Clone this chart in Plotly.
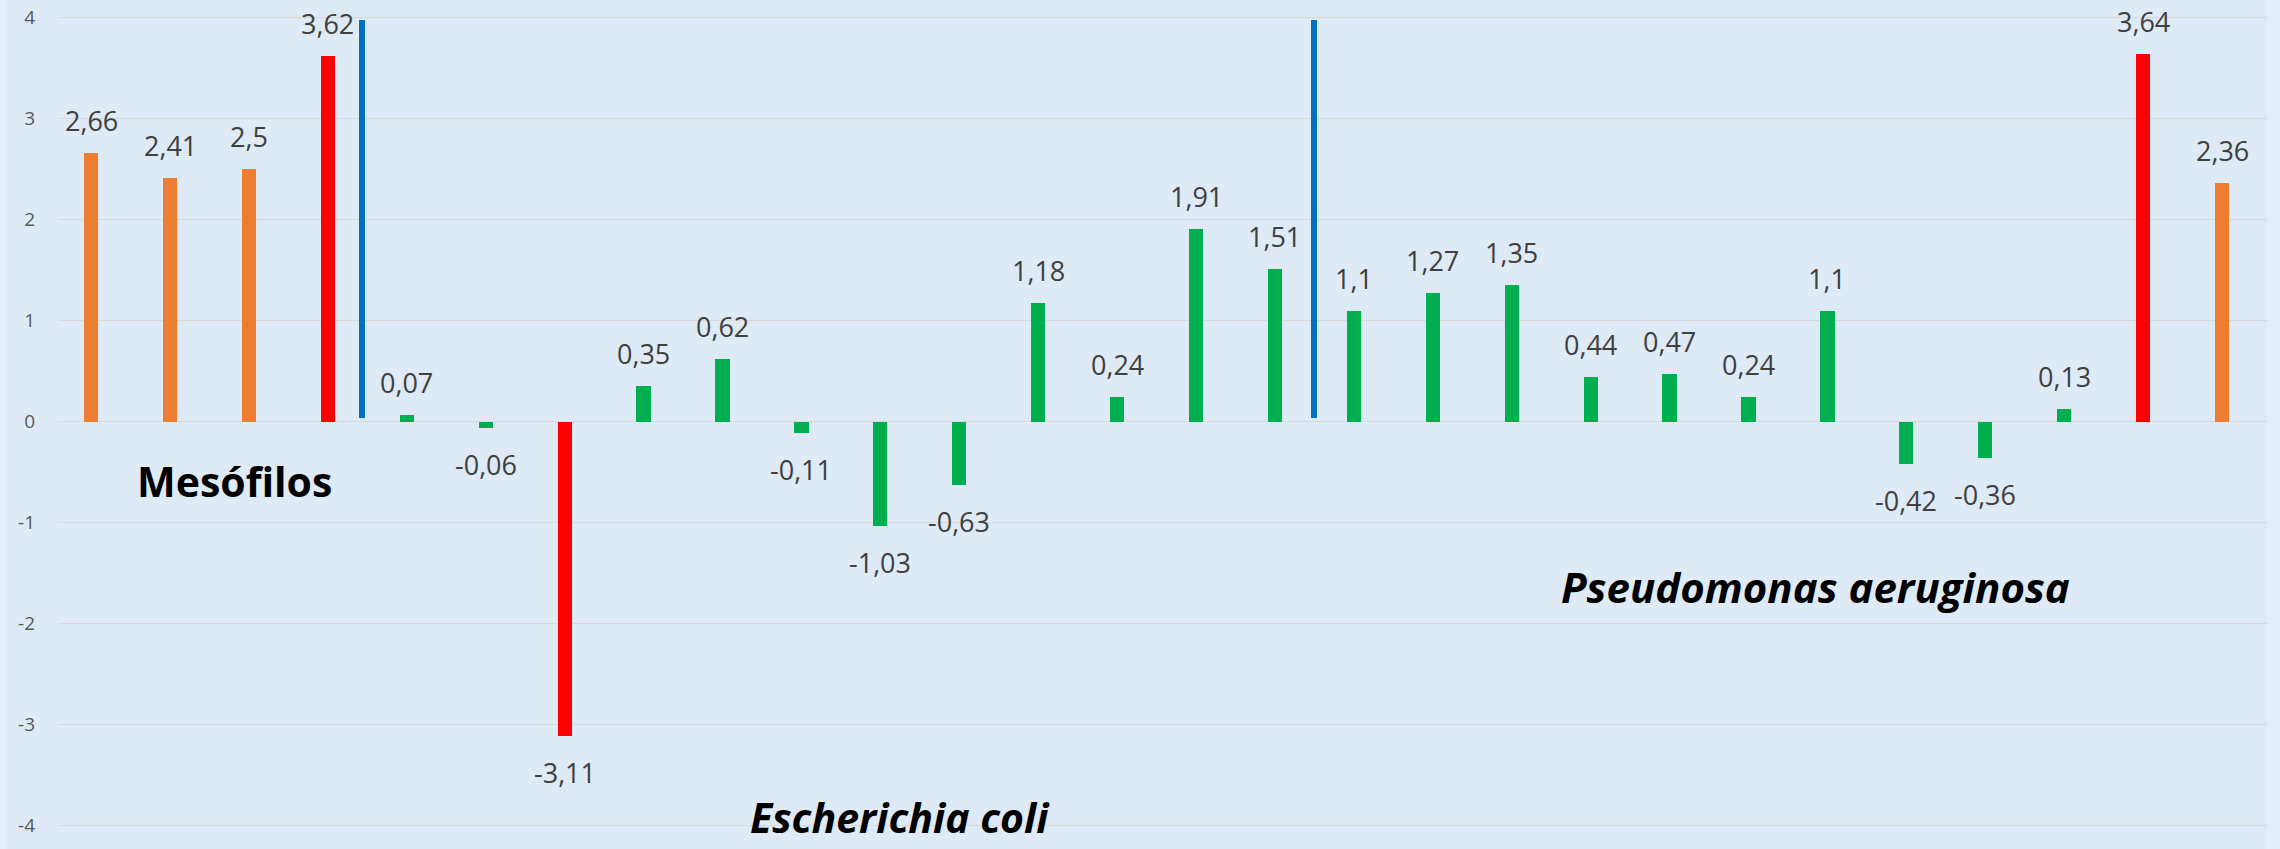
import plotly.graph_objects as go

# ---- data ----
bar_values = [2.66, 2.41, 2.5, 3.62,
              0.07, -0.06, -3.11, 0.35, 0.62, -0.11, -1.03, -0.63, 1.18, 0.24, 1.91, 1.51,
              1.1, 1.27, 1.35, 0.44, 0.47, 0.24, 1.1, -0.42, -0.36, 0.13, 3.64, 2.36]
bar_kind = ["base", "base", "base", "peak",
            "test", "test", "peak", "test", "test", "test", "test", "test", "test", "test", "test", "test",
            "test", "test", "test", "test", "test", "test", "test", "test", "test", "test", "peak", "base"]
divider_x = [3.43, 15.5]
divider_low = [0.04, 0.04]
divider_high = [3.98, 3.98]
y_ticks = [-4, -3, -2, -1, 0, 1, 2, 3, 4]
group_names = ["Mesófilos", "Escherichia coli", "Pseudomonas aeruginosa"]

kind_colors = {"base": "#ED7D31", "peak": "#FF0000", "test": "#00B050"}
x_pos = list(range(len(bar_values)))

def fmt(v):
    return f"{v:g}".replace(".", ",")

fig = go.Figure()
fig.add_trace(go.Bar(
    x=x_pos, y=bar_values, width=0.18,
    marker=dict(color=[kind_colors[k] for k in bar_kind], line=dict(width=0)),
    hoverinfo="skip", showlegend=False,
))
fig.add_trace(go.Bar(
    x=divider_x, y=[h - l for h, l in zip(divider_high, divider_low)], base=divider_low,
    width=0.076, marker=dict(color="#0070C0", line=dict(width=0)),
    hoverinfo="skip", showlegend=False,
))

annotations = []
for xi, v in zip(x_pos, bar_values):
    pos = v >= 0
    annotations.append(dict(
        x=xi, y=v, xref="x", yref="y", text=fmt(v), showarrow=False,
        yanchor="bottom" if pos else "top", yshift=12 if pos else -16,
        font=dict(family="Open Sans", size=27, color="#404040"),
    ))

annotations.append(dict(x=1.82, y=-0.585, xref="x", yref="y", text="<b>" + group_names[0] + "</b>",
                        showarrow=False, yanchor="middle",
                        font=dict(family="Open Sans", size=41, color="#000000")))
annotations.append(dict(x=10.25, y=-3.91, xref="x", yref="y", text="<b><i>" + group_names[1] + "</i></b>",
                        showarrow=False, yanchor="middle",
                        font=dict(family="Open Sans", size=41, color="#000000")))
annotations.append(dict(x=21.85, y=-1.63, xref="x", yref="y", text="<b><i>" + group_names[2] + "</i></b>",
                        showarrow=False, yanchor="middle",
                        font=dict(family="Open Sans", size=42, color="#000000")))

W, H = 2280, 849
L, R = 58, 13
pw = W - L - R
strip = "#E4EEFB"
fig.update_layout(
    width=W, height=H,
    margin=dict(l=L, r=R, t=0, b=0, pad=0),
    paper_bgcolor="#DEEAF6", plot_bgcolor="#DEEAF6",
    barmode="overlay", bargap=0,
    annotations=annotations,
    shapes=[
        dict(type="rect", xref="paper", yref="paper", x0=-L / pw, x1=-(L - 7) / pw, y0=0, y1=1,
             fillcolor=strip, line=dict(width=0), layer="below"),
        dict(type="rect", xref="paper", yref="paper", x0=1, x1=1 + R / pw, y0=0, y1=1,
             fillcolor=strip, line=dict(width=0), layer="below"),
    ],
    xaxis=dict(range=[-0.42, 27.57], showgrid=False, zeroline=False, showticklabels=False,
               showline=False, ticks=""),
    yaxis=dict(range=[-4.23, 4.175], tickvals=y_ticks, ticktext=[str(t) for t in y_ticks],
               showgrid=True, gridcolor="#D9D9D9", gridwidth=1.3,
               zeroline=True, zerolinecolor="#D9D9D9", zerolinewidth=1.3,
               showline=False, ticks="", ticklabelstandoff=22,
               tickfont=dict(family="Open Sans", size=19, color="#595959")),
)

fig.write_html("out.html", config={"displayModeBar": False},
               post_script="document.body.style.margin='0';document.body.style.overflow='hidden';")
